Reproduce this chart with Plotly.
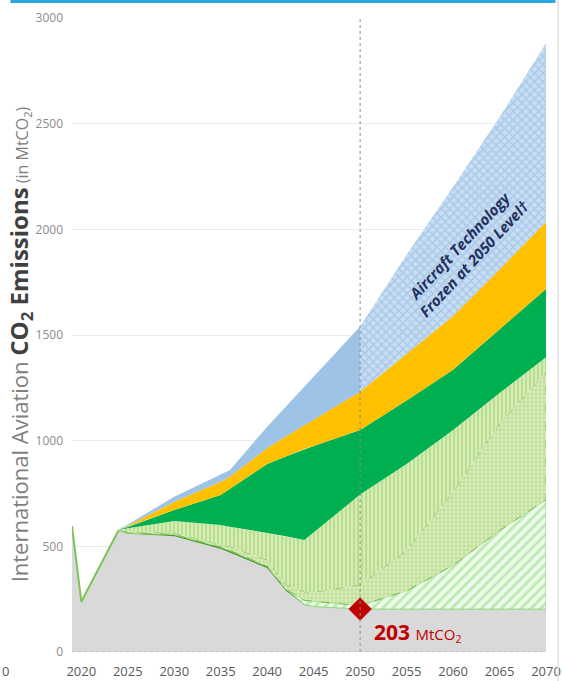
import numpy as np
import plotly.graph_objects as go

# ---------------- data ----------------
years_hist = [2019, 2020, 2024]
emissions_hist = [596, 238, 575]

years = [2024, 2025, 2030, 2035, 2036, 2040, 2042, 2044, 2045, 2050, 2055, 2060, 2065, 2070]
residual = [575, 560, 548, 487, 470, 396, 290, 222, 215, 203, 203, 203, 203, 203]
dark_band = [0, 3, 8, 10, 10, 10, 8, 3, 0, 0, 0, 0, 0, 0]
hatched = [0, 0, 0, 0, 0, 0, 0, 20, 25, 17, 87, 207, 372, 517]
dotted = [0, 7, 6, 10, 18, 29, 22, 40, 43, 98, 190, 350, 505, 605]
striped = [2, 15, 58, 94, 95, 127, 228, 245, 283, 427, 410, 290, 145, 70]
solid_green = [1, 7, 52, 142, 179, 328, 377, 430, 409, 306, 300, 285, 300, 323]
yellow = [1, 5, 39, 63, 58, 75, 95, 115, 125, 181, 220, 255, 285, 317]
blue_tech = [1, 6, 24, 34, 31, 101, 140, 180, 200, 308, 470, 610, 720, 845]

x_ticks = [2020, 2025, 2030, 2035, 2040, 2045, 2050, 2055, 2060, 2065, 2070]
y_ticks = [0, 500, 1000, 1500, 2000, 2500, 3000]
marker_year, marker_value = 2050, 203

# ---------------- build ----------------
layers = [residual, dark_band, hatched, dotted, striped, solid_green, yellow, blue_tech]
tops = np.cumsum(np.array(layers, dtype=float), axis=0)

fig = go.Figure()

# grey residual area incl. history
fig.add_trace(go.Scatter(
    x=years_hist[:-1] + years, y=emissions_hist[:-1] + residual,
    fill="tozeroy", fillcolor="#d9d9d9", mode="lines", line=dict(width=0),
    hoverinfo="skip", showlegend=False))


def band(x, lower, upper, fillcolor, line=None, pattern=None):
    x = list(x)
    xs = x + x[::-1]
    ys = list(upper) + list(lower)[::-1]
    kw = dict(x=xs, y=ys, fill="toself", fillcolor=fillcolor, mode="lines",
              line=line or dict(width=0), hoverinfo="skip", showlegend=False)
    if pattern:
        kw["fillpattern"] = pattern
    fig.add_trace(go.Scatter(**kw))


# dark green thin band
band(years, tops[0], tops[1], "#4f9a33")
# light green diagonal hatch
band(years, tops[1], tops[2], "#effaea", line=dict(width=1, color="#8ed97a"),
     pattern=dict(shape="/", fgcolor="#8ad877", bgcolor="#eefaea", size=7, solidity=0.4))
# dotted
band(years, tops[2], tops[3], "#c6e29f", line=dict(width=1, color="#80bb52", dash="dash"),
     pattern=dict(shape=".", fgcolor="#f4faec", bgcolor="#c3e09b", size=4, solidity=0.4))
# vertical stripes
band(years, tops[3], tops[4], "#cfe9ae",
     pattern=dict(shape="|", fgcolor="#97cc62", bgcolor="#d6edb8", size=4, solidity=0.45))
# solid green
band(years, tops[4], tops[5], "#00b050")
# yellow
band(years, tops[5], tops[6], "#ffc000")
# blue: solid until 2050, cross-hatched afterwards
i50 = years.index(2050)
band(years[:i50 + 1], tops[6][:i50 + 1], tops[7][:i50 + 1], "#9dc3e6")
band(years[i50:], tops[6][i50:], tops[7][i50:], "#c2d8ef",
     pattern=dict(shape="x", fgcolor="#8cb6e0", bgcolor="#c8ddf2", size=6, solidity=0.45))

# historical line
fig.add_trace(go.Scatter(x=years_hist, y=emissions_hist, mode="lines",
                         line=dict(color="#7cc35a", width=2), hoverinfo="skip", showlegend=False))

# 2050 marker
fig.add_trace(go.Scatter(x=[marker_year], y=[marker_value], mode="markers",
                         marker=dict(symbol="diamond", size=18, color="#c00000"),
                         hoverinfo="skip", showlegend=False))

fig.add_shape(type="line", x0=2050, x1=2050, y0=0, y1=3000, xref="x", yref="y",
              line=dict(color="#8c8c8c", width=1, dash="dot"), layer="above")
fig.add_shape(type="line", x0=0, x1=1, y0=0, y1=0, xref="paper", yref="y",
              line=dict(color="#bfbfbf", width=1.5, dash="dot"), layer="above")
# slide frame
fig.add_shape(type="line", x0=-0.13, x1=1.02, y0=1.026, y1=1.026, xref="paper", yref="paper",
              line=dict(color="#2aa7df", width=3))
fig.add_shape(type="line", x0=1.0253, x1=1.0253, y0=-0.05, y1=1.03, xref="paper", yref="paper",
              line=dict(color="#e3e3e3", width=1.5))

fig.add_annotation(x=2051.3, y=95, xref="x", yref="y", xanchor="left", yanchor="middle",
                   text="<b>203</b> <span style='font-size:15px'>MtCO<sub>2</sub></span>",
                   showarrow=False, font=dict(size=21, color="#c00000", family="Open Sans"))

fig.add_annotation(x=2061.5, y=1893, xref="x", yref="y", xanchor="center", yanchor="middle",
                   textangle=-47,
                   text="<b><i>Aircraft Technology<br>Frozen at 2050 Level†</i></b>",
                   showarrow=False, font=dict(size=15, color="#24305e", family="Open Sans"))

fig.add_annotation(x=-0.11, y=0.485, xref="paper", yref="paper", textangle=-90,
                   xanchor="center", yanchor="middle",
                   text=("<span style='color:#808080'>International Aviation </span>"
                         "<b><span style='color:#404040;font-size:24px'>CO<sub>2</sub> Emissions</span></b>"
                         "<span style='color:#808080;font-size:16px'> (in MtCO<sub>2</sub>)</span>"),
                   showarrow=False, font=dict(size=22, color="#808080", family="Open Sans"))

fig.add_annotation(x=-0.141, y=-0.03, xref="paper", yref="paper", text="0", showarrow=False,
                   xanchor="center", yanchor="middle",
                   font=dict(size=13, color="#595959", family="Open Sans"))

fig.update_layout(
    width=562, height=681,
    margin=dict(l=72, r=16, t=18, b=29, autoexpand=False),
    paper_bgcolor="white", plot_bgcolor="white",
    font=dict(family="Open Sans"),
    showlegend=False,
)
fig.update_xaxes(range=[2019, 2070], tickvals=x_ticks, showgrid=False, zeroline=False,
                 showline=False, ticks="", ticklabelstandoff=10, automargin=False,
                 tickfont=dict(size=13, color="#595959"))
fig.update_yaxes(range=[0, 3000], tickvals=y_ticks, showgrid=True, gridcolor="#ececec",
                 gridwidth=1, zeroline=False, showline=False, ticks="", ticklabelstandoff=8,
                 automargin=False, tickfont=dict(size=12, color="#8c8c8c"))

fig.write_html("out.html", config={"displayModeBar": False},
               post_script="document.body.style.margin='0';document.body.style.overflow='hidden';")
